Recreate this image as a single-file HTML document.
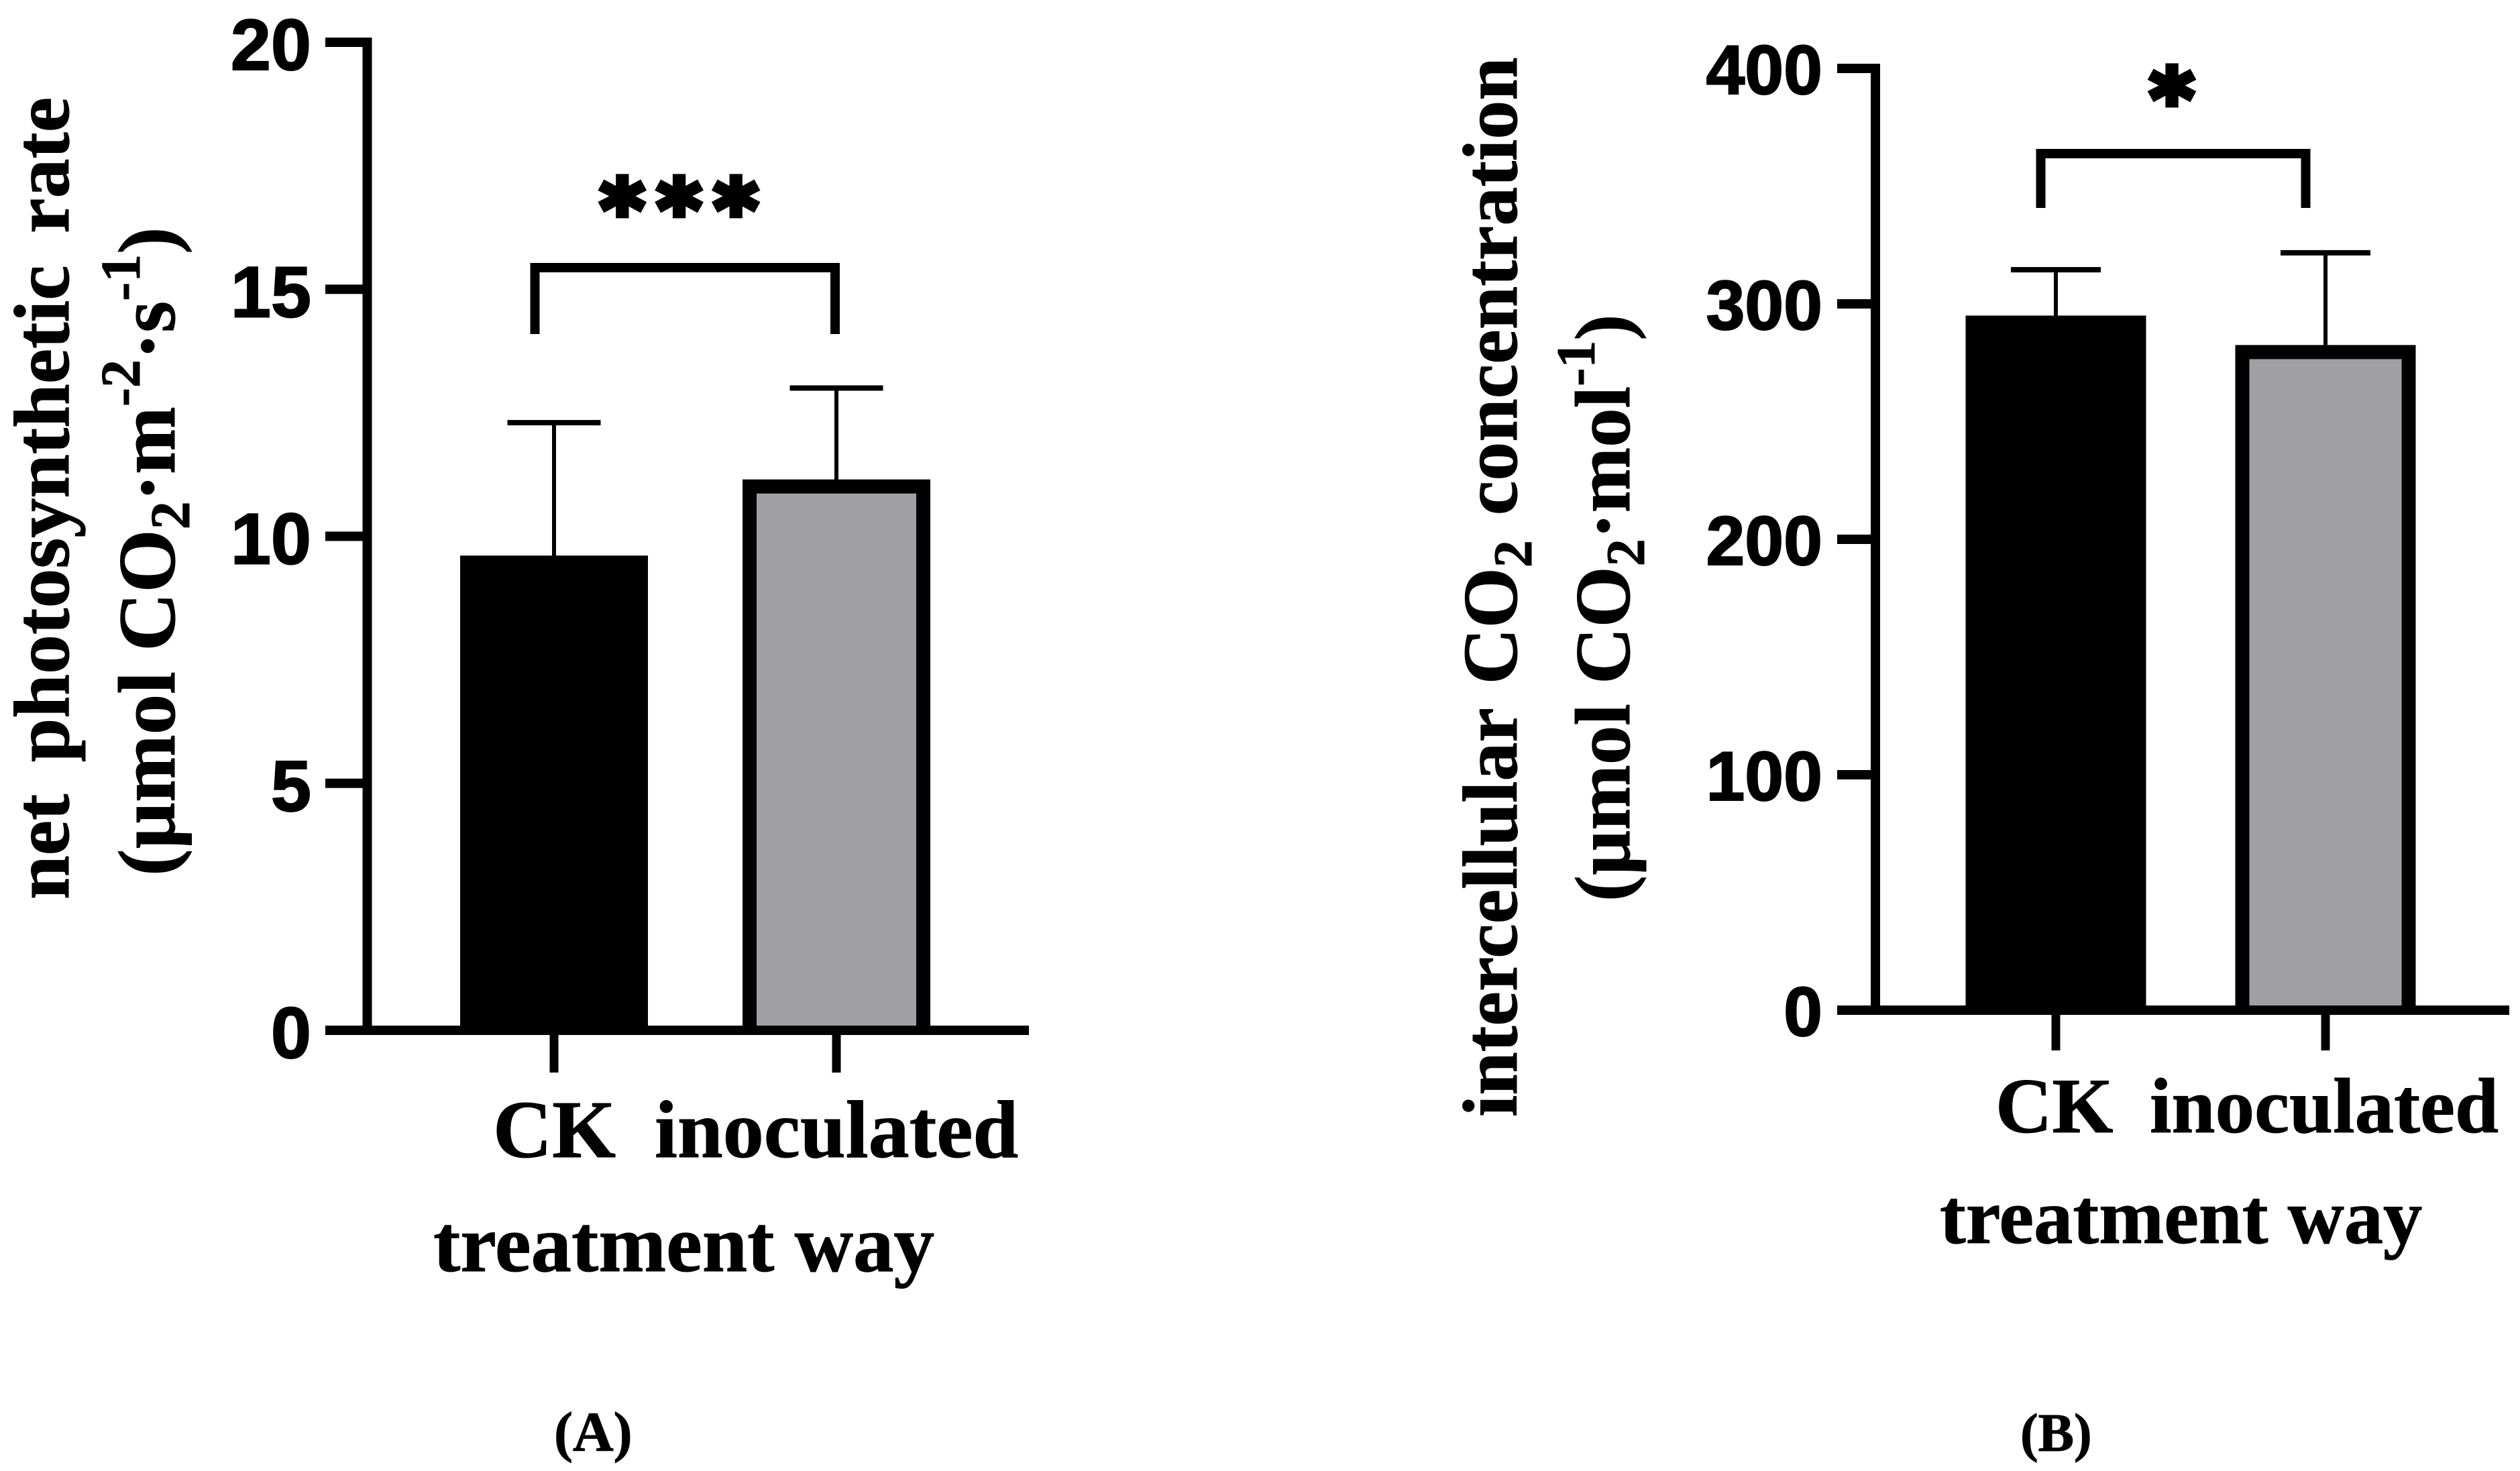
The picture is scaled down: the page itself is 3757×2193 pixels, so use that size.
<!DOCTYPE html>
<html lang="en">
<head>
<meta charset="utf-8">
<title>Net photosynthetic rate and intercellular CO2 concentration</title>
<style>
html,body{margin:0;padding:0;background:#fff;}
svg{display:block;}
.serif{font-family:"Liberation Serif",serif;font-weight:bold;fill:#000;stroke:#000;stroke-width:1;}
.sans{font-family:"Liberation Sans",sans-serif;font-weight:bold;fill:#000;stroke:#000;stroke-width:2;}
.star{font-family:"DejaVu Sans",sans-serif;font-weight:bold;fill:#000;stroke:#000;stroke-width:8;}
</style>
</head>
<body>
<svg id="figure" xmlns="http://www.w3.org/2000/svg" width="3757" height="2193" viewBox="0 0 3757 2193">
  <rect width="3757" height="2193" fill="#fff"/>

  <g id="panel-a"></g>
  <g id="panel-b"></g>

  <text class="serif" font-size="118" word-spacing="18" transform="translate(102,1341) rotate(-90)">net photosynthetic rate</text>
  <text class="serif" font-size="121" transform="translate(260,1306) rotate(-90)">(µmol CO<tspan font-size="84" dy="22">2</tspan><tspan dy="-22">·m</tspan><tspan font-size="84" dy="-52">-2</tspan><tspan dy="52">·s</tspan><tspan font-size="84" dy="-52">-1</tspan><tspan dy="52">)</tspan></text>
  <text class="serif" font-size="121" x="646" y="1895">treatment way</text>
  <text class="serif" font-size="84" x="826" y="2163">(A)</text>
  <path d="M797.5 498V399H1245V498" fill="none" stroke="#000" stroke-width="14"/>
  <text class="star" font-size="112" letter-spacing="17" text-anchor="middle" transform="translate(1022,355) scale(1.12,1.1)">***</text>

  <text class="serif" font-size="116" word-spacing="8" transform="translate(2261,1665) rotate(-90)">intercellular CO<tspan font-size="82" dy="22">2</tspan><tspan dy="-22"> concentration</tspan></text>
  <text class="serif" font-size="117" transform="translate(2429,1344) rotate(-90)">(µmol CO<tspan font-size="82" dy="22">2</tspan><tspan dy="-22">·mol</tspan><tspan font-size="82" dy="-52">-1</tspan><tspan dy="52">)</tspan></text>
  <text class="serif" font-size="116.5" x="2892" y="1853">treatment way</text>
  <text class="serif" font-size="80" x="3012" y="2163">(B)</text>
  <path d="M3042.5 310V229H3437.5V310" fill="none" stroke="#000" stroke-width="14"/>
  <text class="star" font-size="112" text-anchor="middle" transform="translate(3238,190) scale(1.12,1.1)">*</text>
</svg>

<script>
// Panel A data: net photosynthetic rate
const panelACategories = ['CK', 'inoculated'];
const panelAMeans = [9.61, 11.15];
const panelAErrors = [2.69, 1.85];
const panelATicks = [0, 5, 10, 15, 20];
const panelATickLabels = ['0', '5', '10', '15', '20'];

// Panel B data: intercellular CO2 concentration
const panelBCategories = ['CK', 'inoculated'];
const panelBMeans = [295, 282.5];
const panelBErrors = [19.5, 39.2];
const panelBTicks = [0, 100, 200, 300, 400];
const panelBTickLabels = ['0', '100', '200', '300', '400'];

const SVGNS = 'http://www.w3.org/2000/svg';

function mk(parent, tag, attrs, text) {
  const el = document.createElementNS(SVGNS, tag);
  for (const k in attrs) el.setAttribute(k, attrs[k]);
  if (text !== undefined) el.textContent = text;
  parent.appendChild(el);
  return el;
}

function drawPanel(root, prefix, categories, means, errors, ticks, tickLabels, geo) {
  const y = function (v) {
    return geo.y0 + (geo.yMax - geo.y0) * (v - ticks[0]) / (ticks[ticks.length - 1] - ticks[0]);
  };
  const x = function (i) {
    return geo.xFirst + i * (geo.xLast - geo.xFirst) / (categories.length - 1);
  };

  categories.forEach(function (cat, i) {
    const cx = x(i);
    const slug = prefix + '-' + cat.toLowerCase();

    const errTop = y(means[i] + errors[i]);
    const stem = mk(root, 'line', {x1: cx, x2: cx, y1: errTop, y2: y(means[i]) + 4, stroke: '#000', 'stroke-width': 6});
    
    
    const cap = mk(root, 'line', {x1: cx - geo.capHalf, x2: cx + geo.capHalf, y1: errTop, y2: errTop, stroke: '#000', 'stroke-width': 8});
    
    

    const sw = geo.barStroke;
    const top = y(means[i]) + sw / 2;
    const left = cx - geo.barHalf + sw / 2;
    const right = cx + geo.barHalf - sw / 2;
    const base = y(ticks[0]);
    const bar = mk(root, 'path', {
      d: 'M' + left + ' ' + base + 'V' + top + 'H' + right + 'V' + base,
      fill: geo.fills[i],
      stroke: '#000',
      'stroke-width': sw
    });
    
    

    const tick = mk(root, 'line', {x1: cx, x2: cx, y1: geo.y0, y2: geo.xTickEnd, stroke: '#000', 'stroke-width': 13});
    
    

    const lab = mk(root, 'text', {x: geo.catX[i], y: geo.catY, 'font-size': geo.catSize, 'class': 'serif'}, cat);
    
    
  });

  const yAxis = mk(root, 'line', {x1: geo.axisX, x2: geo.axisX, y1: y(ticks[ticks.length - 1]) - 7, y2: geo.y0 + 7, stroke: '#000', 'stroke-width': 14});
  
  

  const xAxis = mk(root, 'line', {x1: geo.tickLeft, x2: geo.xAxisEnd, y1: geo.y0, y2: geo.y0, stroke: '#000', 'stroke-width': 14});
  
  

  ticks.forEach(function (t, i) {
    const ty = y(t);
    const tick = mk(root, 'line', {x1: geo.tickLeft, x2: geo.axisX, y1: ty, y2: ty, stroke: '#000', 'stroke-width': 14});
    
    
    const lab = mk(root, 'text', {x: geo.tickLabelX, y: ty + geo.tickLabelDy, 'font-size': geo.tickSize, 'text-anchor': 'end', 'class': 'sans'}, tickLabels[i]);
    
    
  });
}

drawPanel(document.getElementById('panel-a'), 'panel-a', panelACategories, panelAMeans, panelAErrors, panelATicks, panelATickLabels, {
  y0: 1536, yMax: 63, xFirst: 826, xLast: 1247, barHalf: 140, barStroke: 21, capHalf: 69.5,
  fills: ['#000000', '#a09fa3'], axisX: 547.5, tickLeft: 485, xAxisEnd: 1534, xTickEnd: 1599,
  catX: [735, 976], catY: 1725, catSize: 122, tickLabelX: 464, tickLabelDy: 41, tickSize: 108
});

drawPanel(document.getElementById('panel-b'), 'panel-b', panelBCategories, panelBMeans, panelBErrors, panelBTicks, panelBTickLabels, {
  y0: 1506, yMax: 102, xFirst: 3065, xLast: 3467, barHalf: 134.5, barStroke: 21, capHalf: 67,
  fills: ['#000000', '#a09fa3'], axisX: 2796, tickLeft: 2739, xAxisEnd: 3741, xTickEnd: 1566,
  catX: [2975, 3205], catY: 1688, catSize: 117, tickLabelX: 2717, tickLabelDy: 38, tickSize: 104
});
</script>
</body>
</html>
